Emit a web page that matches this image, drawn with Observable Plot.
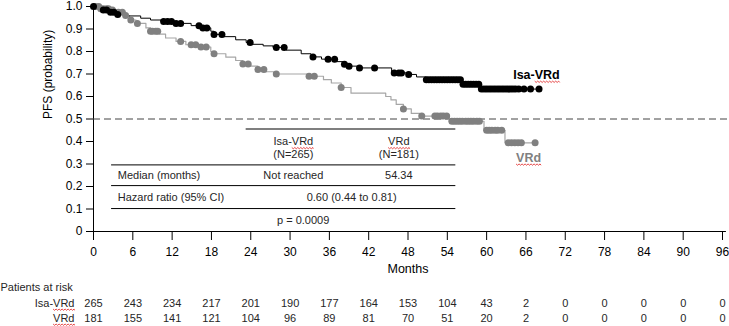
<!DOCTYPE html>
<html><head><meta charset="utf-8">
<script src="https://cdn.jsdelivr.net/npm/d3@7"></script>
<script src="https://cdn.jsdelivr.net/npm/@observablehq/plot@0.6"></script>
<style>
body{margin:0;background:#fff;}
#chart svg{font-family:"Liberation Sans",Arial,sans-serif;display:block;}
</style>
</head><body><div id="chart"></div>
<script>
// ---- data ----
const xTicks = [0,6,12,18,24,30,36,42,48,54,60,66,72,78,84,90,96];
const yTicks = [0,0.1,0.2,0.3,0.4,0.5,0.6,0.7,0.8,0.9,1.0];

// Isa-VRd KM step points
const isaT = [0,1,2.3,3.4,4.9,7.2,8.7,10.3,12.6,14.9,16.4,17.9,18.4,19.8,21.7,23.3,24.3,25.9,27.4,29.4,31.7,33.2,34.8,37.1,38.3,39.0,40.3,45.5,48.1,49.3,50.8,56.2,59.0];
const isaS = [1.0,0.985,0.975,0.965,0.958,0.948,0.94,0.933,0.925,0.915,0.905,0.89,0.876,0.866,0.852,0.84,0.832,0.825,0.818,0.806,0.79,0.776,0.766,0.755,0.743,0.735,0.727,0.705,0.698,0.687,0.675,0.655,0.633];
const isaEnd = 68.0;
const isaCensor = [0,1.5,2.0,2.6,3.1,3.7,10.7,11.3,11.9,12.6,13.3,16.1,16.7,17.3,18.4,19.6,23.9,27.9,29.1,33.5,35.8,36.8,38.3,39.0,40.6,42.9,45.9,46.6,47.0,48.1,
  50.8,51.2,51.6,52.0,52.4,52.8,53.2,53.6,54.0,54.4,54.8,55.2,55.6,56.0,56.4,56.8,57.2,57.6,58.0,58.4,58.8,59.2,59.6,60.0,60.4,60.8,61.2,61.6,62.0,62.4,62.8,63.2,63.6,64.0,64.4,64.9,65.7,66.7,68.0];

// VRd KM step points
const vrdT = [0,1,2.6,3.8,4.9,5.5,6.5,8.0,8.7,10,11,12.6,14.1,16.4,17.9,18.4,20.2,21.7,22.8,24.0,25.1,26.3,27.5,32.9,35.1,36.3,37.8,39.3,44.6,45.4,46.2,47.3,48.5,49.8,54.3,59.6,62.8];
const vrdS = [1.0,0.99,0.985,0.975,0.96,0.94,0.925,0.905,0.89,0.877,0.86,0.845,0.83,0.82,0.80,0.79,0.775,0.76,0.745,0.735,0.72,0.71,0.70,0.69,0.675,0.66,0.64,0.615,0.60,0.585,0.565,0.545,0.525,0.513,0.49,0.45,0.394];
const vrdEnd = 67.4;
const vrdCensor = [0.3,0.8,1.1,1.5,2.0,2.3,2.9,3.8,4.4,4.9,5.7,6.7,8.7,9.0,9.5,9.8,13.3,14.9,15.6,16.4,17.2,18.4,22.8,23.6,25.1,26.0,27.9,32.9,33.7,37.8,47.3,50.1,
  52.1,52.5,53.0,53.4,53.9,54.7,55.1,55.5,55.9,56.3,56.8,57.2,57.6,58.0,58.5,58.9,60.0,60.4,60.8,61.3,61.7,62.3,63.3,63.8,64.3,64.8,65.3,67.4];

// patients at risk
const riskIsa = [265,243,234,217,201,190,177,164,153,104,43,2,0,0,0,0,0];
const riskVrd = [181,155,141,121,104,96,89,81,70,51,20,2,0,0,0,0,0];

// inset table
const tableCols = ["Isa-VRd","VRd"];
const tableN = ["(N=265)","(N=181)"];
const medianLabel = "Median (months)";
const medianVals = ["Not reached","54.34"];
const hrLabel = "Hazard ratio (95% CI)";
const hrVal = "0.60 (0.44 to 0.81)";
const pVal = "p = 0.0009";

// ---- build ----
function steps(T,S,end){ const a=T.map((t,i)=>({t,s:S[i]})); a.push({t:end,s:S[S.length-1]}); return a; }
function survAt(T,S,t){ let s=S[0]; for(let i=0;i<T.length;i++) if(T[i]<=t) s=S[i]; return s; }
const isaLine = steps(isaT,isaS,isaEnd);
const vrdLine = steps(vrdT,vrdS,vrdEnd);
const isaDots = isaCensor.map(t=>({t,s:survAt(isaT,isaS,t)}));
const vrdDots = vrdCensor.map(t=>({t,s:survAt(vrdT,vrdS,t)}));

const colX = [30.5,46.6];
const tc = "#262626";
const tfs = 11;

const chart = Plot.plot({
  width: 729, height: 326,
  marginLeft: 93, marginRight: 7, marginTop: 6, marginBottom: 95,
  style: {fontFamily:"Liberation Sans, Arial, sans-serif", fontSize:"12px", background:"#fff", overflow:"visible", color:"#000"},
  x: {domain:[0,96]},
  y: {domain:[0,1]},
  marks: [
    Plot.axisX({ticks:xTicks, tickSize:9, tickPadding:7, label:null, fontSize:12}),
    Plot.axisY({ticks:yTicks, tickSize:7, tickPadding:4, label:null, fontSize:12, tickFormat:d=>d===0?"0":d.toFixed(1)}),
    Plot.ruleX([{x:0}], {x:"x", y1:()=>0, y2:()=>1, stroke:"#000"}),
    Plot.ruleY([{y:0,x1:0,x2:96.6}], {y:"y", x1:"x1", x2:"x2", stroke:"#000", clip:false}),
    Plot.ruleY([{y:0.5,x1:0,x2:97.6}], {y:"y", x1:"x1", x2:"x2", stroke:"#444", strokeDasharray:"7,4", clip:false}),
    // table lines
    Plot.ruleY([{y:0.456,x1:23.3,x2:55.3}], {y:"y", x1:"x1", x2:"x2", stroke:"#7f7f7f", strokeWidth:2}),
    Plot.ruleY([0.296,0.204,0.102].map(y=>({y,x1:2.76,x2:55.3})), {y:"y", x1:"x1", x2:"x2", stroke:"#000", strokeWidth:1}),
    // curves
    Plot.line(vrdLine, {x:"t", y:"s", curve:"step-after", stroke:"#a6a6a6", strokeWidth:1.2}),
    Plot.line(isaLine, {x:"t", y:"s", curve:"step-after", stroke:"#000", strokeWidth:1}),
    Plot.dot(vrdDots, {x:"t", y:"s", r:3.5, fill:"#808080", stroke:"none"}),
    Plot.dot(isaDots, {x:"t", y:"s", r:3.5, fill:"#000", stroke:"none"}),
    // curve labels
    Plot.text(["Isa-VRd"], {x:()=>67.6, y:()=>0.695, text:d=>d, fontWeight:"bold", fontSize:12.5, fill:"#000"}),
    Plot.text(["VRd"], {x:()=>66.4, y:()=>0.327, text:d=>d, fontWeight:"bold", fontSize:12.5, fill:"#808080"}),
    // inset table text
    Plot.text(tableCols, {x:(d,i)=>colX[i], y:()=>0.398, text:d=>d, fontSize:tfs, fill:tc}),
    Plot.text(tableN, {x:(d,i)=>colX[i], y:()=>0.341, text:d=>d, fontSize:tfs, fill:tc}),
    Plot.text([medianLabel], {x:()=>3.7, y:()=>0.248, text:d=>d, textAnchor:"start", fontSize:tfs, fill:tc}),
    Plot.text(medianVals, {x:(d,i)=>colX[i], y:()=>0.248, text:d=>d, fontSize:tfs, fill:tc}),
    Plot.text([hrLabel], {x:()=>3.7, y:()=>0.150, text:d=>d, textAnchor:"start", fontSize:tfs, fill:tc}),
    Plot.text([hrVal], {x:()=>39.4, y:()=>0.150, text:d=>d, fontSize:tfs, fill:tc}),
    Plot.text([pVal], {x:()=>32, y:()=>0.049, text:d=>d, fontSize:tfs, fill:tc}),
    // axis title
    Plot.text(["Months"], {frameAnchor:"bottom", dy:41, text:d=>d, fontSize:12.5, fill:"#000"}),
    Plot.text(["PFS (probability)"], {frameAnchor:"left", dx:-45, rotate:-90, text:d=>d, fontSize:12, fill:"#000"}),
    // patients at risk
    Plot.text(["Patients at risk"], {x:()=>0, y:()=>0, dx:-93, dy:56, textAnchor:"start", text:d=>d, fontSize:11, fill:tc}),
    Plot.text(["Isa-VRd"], {x:()=>0, y:()=>0, dx:-19, dy:72, textAnchor:"end", text:d=>d, fontSize:11, fill:tc}),
    Plot.text(["VRd"], {x:()=>0, y:()=>0, dx:-19, dy:87, textAnchor:"end", text:d=>d, fontSize:11, fill:tc}),
    Plot.text(riskIsa, {x:(d,i)=>xTicks[i], y:()=>0, dy:72, text:d=>String(d), fontSize:11, fill:tc}),
    Plot.text(riskVrd, {x:(d,i)=>xTicks[i], y:()=>0, dy:87, text:d=>String(d), fontSize:11, fill:tc})
  ]
});
document.getElementById("chart").appendChild(chart);

// spell-check squiggles under "VRd", as in the reference
d3.select(chart).selectAll("text").each(function(){
  const s = this.textContent;
  const i = s.indexOf("VRd");
  if (i < 0 || this.childElementCount > 0) return;
  const p0 = this.getStartPositionOfChar(i);
  const p1 = this.getEndPositionOfChar(i + 2);
  const yb = p0.y + 2;
  let dpath = `M${p0.x},${yb}`;
  for (let x = p0.x, k = 0; x < p1.x; x += 1.5, k++) dpath += `L${Math.min(x + 1.5, p1.x)},${yb + (k % 2 ? 0 : 1.3)}`;
  const path = document.createElementNS("http://www.w3.org/2000/svg", "path");
  path.setAttribute("d", dpath);
  path.setAttribute("fill", "none");
  path.setAttribute("stroke", "#e02020");
  path.setAttribute("stroke-width", "0.8");
  const tr = this.getAttribute("transform");
  if (tr) path.setAttribute("transform", tr);
  this.parentNode.appendChild(path);
});
</script>
</body></html>
